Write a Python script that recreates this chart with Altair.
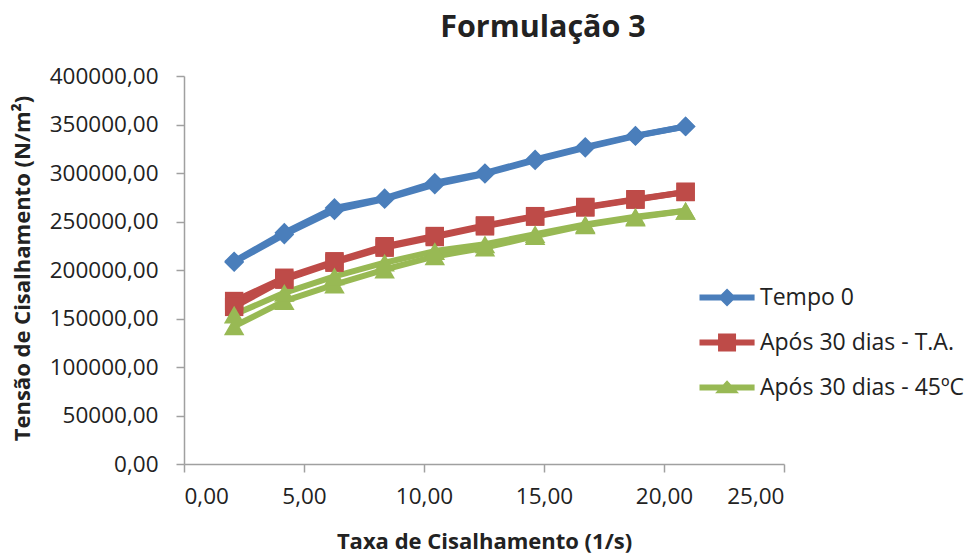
import altair as alt
import pandas as pd

# ---- data ----
shear_rate = [2.09, 4.18, 6.27, 8.36, 10.45, 12.54, 14.63, 16.72, 18.81, 20.90]

series_names = ["Tempo 0", "Após 30 dias - T.A.", "Após 30 dias - 45ºC"]

tempo0_up = [209000, 238500, 264000, 274000, 290000, 300000, 314000, 327000, 338500, 348000]
tempo0_down = [208000, 236500, 261500, 273000, 288000, 299000, 313000, 326000, 338000, 348000]

ta_up = [168000, 192000, 209000, 224500, 235000, 246000, 255500, 265000, 273000, 280500]
ta_down = [162000, 190000, 207500, 223000, 234000, 245000, 255000, 264500, 272500, 280500]

c45_up = [142000, 168000, 185000, 200500, 214000, 223000, 235000, 246000, 254000, 261000]
c45_down = [154000, 176500, 193500, 207500, 219500, 226500, 237000, 247000, 255000, 261000]

colors = ["#4A7EBB", "#BE4B48", "#98B954"]
marker_shapes = ["diamond", "square", "triangle-up"]
marker_sizes = [390, 340, 420]

rows = []
for name, up, down in [
    (series_names[0], tempo0_up, tempo0_down),
    (series_names[1], ta_up, ta_down),
    (series_names[2], c45_up, c45_down),
]:
    for i, (x, y) in enumerate(zip(shear_rate, up)):
        rows.append({"serie": name, "ramo": "subida", "ordem": i, "x": x, "y": y})
    for i, (x, y) in enumerate(zip(shear_rate[::-1], down[::-1])):
        rows.append({"serie": name, "ramo": "descida", "ordem": i, "x": x, "y": y})
df = pd.DataFrame(rows)

FONT = "Open Sans"

color_scale = alt.Scale(domain=series_names, range=colors)

x_enc = alt.X(
    "x:Q",
    scale=alt.Scale(domain=[0, 25], nice=False),
    axis=alt.Axis(
        values=[0, 5, 10, 15, 20, 25],
        labelExpr="replace(format(datum.value, '.2f'), '.', ',')",
        title="Taxa de Cisalhamento (1/s)",
        titleX=300, titleY=77, titleBaseline="middle",
        labelPadding=13,
    ),
)
y_enc = alt.Y(
    "y:Q",
    scale=alt.Scale(domain=[0, 400000], nice=False),
    axis=alt.Axis(
        values=[0, 50000, 100000, 150000, 200000, 250000, 300000, 350000, 400000],
        labelExpr="replace(format(datum.value, '.2f'), '.', ',')",
        title="Tensão de Cisalhamento (N/m²)",
        titleX=-162, titleY=192, titleBaseline="middle", titleAngle=-90,
        labelPadding=18,
    ),
)

# legend symbols: line stub + marker (custom paths)
p_diamond = "M-1,-0.33 L5.12,-0.33 L5.12,0.33 L-1,0.33 Z M1.06,0 L2.06,-1 L3.06,0 L2.06,1 Z"
p_square = "M-1,-0.33 L5.12,-0.33 L5.12,0.33 L-1,0.33 Z M1.06,-1 L3.06,-1 L3.06,1 L1.06,1 Z"
p_tri = "M-1,-0.33 L5.12,-0.33 L5.12,0.33 L-1,0.33 Z M2.06,-0.8 L3.39,0.65 L0.73,0.65 Z"

legend_props = dict(
    title=None,
    orient="none",
    legendX=513,
    legendY=210,
    symbolSize=324,
    symbolStrokeWidth=0,
    symbolOpacity=1,
    labelOffset=40,
    labelLimit=0,
    rowPadding=21,
    labelFontSize=23,
    labelFont=FONT,
    labelColor="#222222",
)

base = alt.Chart(df)

lines = base.mark_line(strokeWidth=6, strokeJoin="round", strokeCap="round").encode(
    x=x_enc,
    y=y_enc,
    color=alt.Color("serie:N", scale=color_scale),
    detail="ramo:N",
    order="ordem:Q",
)

point_layers = []
for name, shp, sz in zip(series_names, marker_shapes, marker_sizes):
    point_layers.append(
        base.transform_filter(alt.datum.serie == name)
        .mark_point(filled=True, opacity=1, shape=shp, size=sz)
        .encode(x="x:Q", y="y:Q", color=alt.Color("serie:N", scale=color_scale))
    )

legend_layer = (
    base.transform_filter("false")
    .mark_point(filled=True, size=324)
    .encode(
        x="x:Q",
        y="y:Q",
        color=alt.Color("serie:N", scale=color_scale, legend=alt.Legend(**legend_props)),
        shape=alt.Shape(
            "serie:N",
            scale=alt.Scale(domain=series_names, range=[p_diamond, p_square, p_tri]),
            legend=alt.Legend(**legend_props),
        ),
    )
)

chart = (
    alt.layer(lines, *point_layers, legend_layer)
    .properties(
        width=600,
        height=388,
        background="white",
        autosize=alt.AutoSizeParams(type="none"),
        padding={"left": 184, "top": 76, "right": 188, "bottom": 89},
        title=alt.TitleParams(
            "Formulação 3", font=FONT, fontSize=30.5, fontWeight="bold",
            color="#222222", anchor="middle", dx=59, offset=22,
        ),
    )
    .configure_view(stroke=None)
    .configure_axis(
        grid=False,
        domainColor="#A0A0A0",
        domainWidth=1.5,
        tickColor="#A0A0A0",
        tickWidth=1.5,
        tickSize=8,
        labelFont=FONT,
        labelFontSize=22.5,
        labelColor="#222222",
        titleFont=FONT,
        titleFontSize=22,
        titleFontWeight="bold",
        titleColor="#222222",
    )
)

chart.save("out.html", embed_options={"renderer": "svg", "actions": False})
